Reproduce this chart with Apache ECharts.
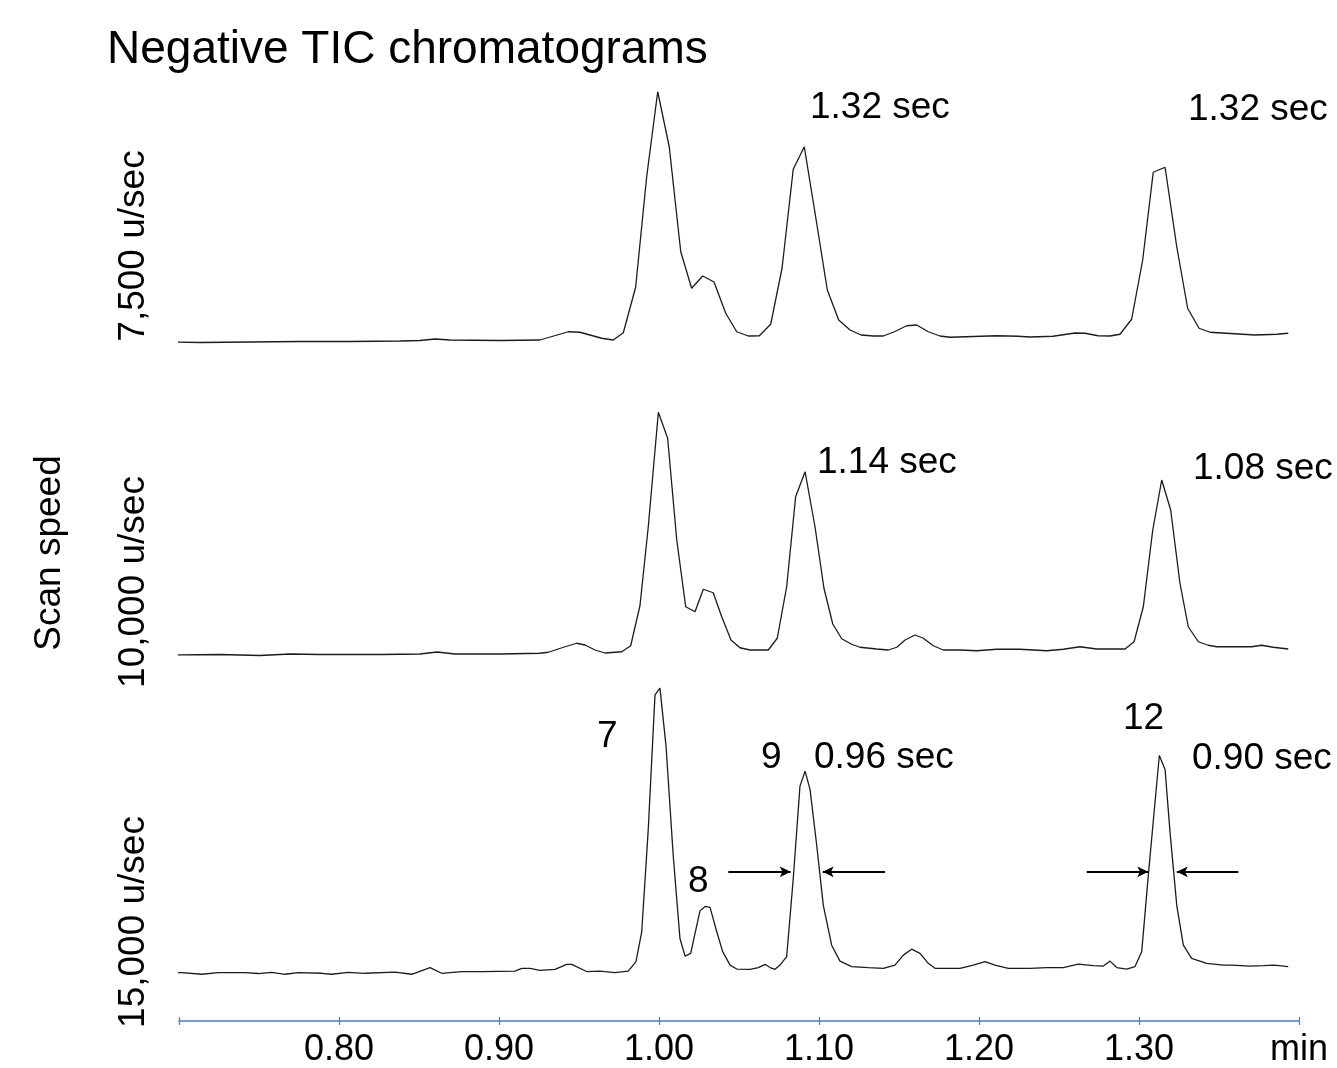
<!DOCTYPE html>
<html>
<head>
<meta charset="utf-8">
<title>Negative TIC chromatograms</title>
<script src="https://cdn.jsdelivr.net/npm/echarts@6/dist/echarts.min.js"></script>
<style>
  html, body { margin: 0; padding: 0; background: #fff; }
  #chart { width: 1337px; height: 1068px; }
</style>
</head>
<body>
<div id="chart"></div>
<script>
// [retention time (min), relative intensity]
var scan7500 = [
  [0.6956, 7.2], [0.7131, 7.0], [0.7444, 7.2], [0.7756, 7.4], [0.8069, 7.4], [0.8381, 7.6],
  [0.8506, 7.8], [0.8600, 8.4], [0.8694, 8.0], [0.9006, 7.8], [0.9256, 8.0], [0.9433, 11.3],
  [0.9506, 11.1], [0.9642, 8.7], [0.9714, 8.0], [0.9777, 10.9], [0.9854, 29.1], [0.9923, 73.3],
  [0.9992, 107.3], [1.0064, 85.3], [1.0136, 43.3], [1.0204, 28.7], [1.0273, 33.6], [1.0344, 31.2],
  [1.0417, 18.7], [1.0486, 11.3], [1.0558, 9.6], [1.0627, 9.7], [1.0698, 14.3], [1.0769, 36.7],
  [1.0839, 76.3], [1.0908, 85.3], [1.0979, 57.3], [1.1052, 28.0], [1.1123, 16.0], [1.1194, 12.0],
  [1.1263, 10.0], [1.1339, 9.6], [1.1402, 9.6], [1.1471, 11.3], [1.1548, 13.7], [1.1611, 14.0],
  [1.1683, 11.3], [1.1756, 9.6], [1.1819, 9.1], [1.2111, 9.7], [1.2244, 9.5], [1.2319, 9.2],
  [1.2463, 9.5], [1.2600, 10.8], [1.2663, 10.7], [1.2744, 9.7], [1.2819, 9.6], [1.2881, 10.3],
  [1.2954, 16.3], [1.3023, 40.0], [1.3089, 75.1], [1.3163, 77.1], [1.3236, 45.3], [1.3304, 20.7],
  [1.3375, 12.7], [1.3444, 11.1], [1.3725, 10.0], [1.3861, 10.3], [1.3933, 10.7]
];

var scan10000 = [
  [0.6956, 8.0], [0.7256, 8.2], [0.7506, 7.8], [0.7694, 8.4], [0.7881, 8.2], [0.8256, 8.2],
  [0.8506, 8.4], [0.8613, 9.2], [0.8725, 8.4], [0.9006, 8.4], [0.9256, 8.7], [0.9308, 9.1],
  [0.9413, 11.3], [0.9486, 12.7], [0.9538, 12.0], [0.9600, 10.0], [0.9663, 8.8], [0.9767, 9.3],
  [0.9823, 11.7], [0.9881, 27.7], [0.9933, 59.3], [0.9996, 105.1], [1.0054, 94.7], [1.0111, 54.0],
  [1.0167, 27.3], [1.0225, 25.3], [1.0277, 34.3], [1.0339, 32.9], [1.0392, 23.3], [1.0450, 14.0],
  [1.0506, 10.9], [1.0569, 10.0], [1.0683, 10.0], [1.0739, 14.7], [1.0798, 35.3], [1.0854, 71.3],
  [1.0913, 81.3], [1.0975, 59.3], [1.1031, 34.7], [1.1086, 20.4], [1.1142, 14.5], [1.1204, 12.3],
  [1.1256, 11.1], [1.1361, 10.4], [1.1433, 10.0], [1.1486, 11.1], [1.1538, 14.0], [1.1600, 16.0],
  [1.1652, 14.7], [1.1714, 11.7], [1.1777, 10.0], [1.1881, 10.0], [1.1986, 9.7], [1.2111, 10.3],
  [1.2256, 10.3], [1.2423, 9.7], [1.2527, 10.3], [1.2631, 11.3], [1.2736, 10.4], [1.2913, 10.4],
  [1.2969, 13.3], [1.3027, 27.3], [1.3086, 58.0], [1.3142, 78.0], [1.3198, 66.0], [1.3256, 36.7],
  [1.3308, 19.3], [1.3371, 13.3], [1.3433, 11.9], [1.3486, 11.3], [1.3589, 11.3], [1.3704, 11.3],
  [1.3767, 11.9], [1.3839, 11.1], [1.3933, 10.4]
];

var scan15000 = [
  [0.6954, 19.3], [0.7017, 19.5], [0.7142, 18.8], [0.7246, 19.5], [0.7413, 19.5], [0.7496, 19.1],
  [0.7579, 19.6], [0.7663, 18.8], [0.7746, 19.5], [0.7892, 19.2], [0.7954, 18.8], [0.8058, 19.6],
  [0.8163, 19.2], [0.8350, 19.7], [0.8454, 18.8], [0.8569, 21.5], [0.8642, 19.2], [0.8767, 19.9],
  [0.8892, 19.9], [0.9100, 20.1], [0.9142, 21.2], [0.9194, 21.2], [0.9256, 20.4], [0.9350, 20.8],
  [0.9423, 22.8], [0.9454, 22.8], [0.9548, 19.9], [0.9631, 20.1], [0.9725, 19.5], [0.9808, 20.1],
  [0.9856, 23.9], [0.9892, 35.9], [0.9933, 77.2], [0.9975, 131.2], [1.0006, 133.9], [1.0044, 110.5],
  [1.0089, 66.5], [1.0131, 33.2], [1.0163, 26.1], [1.0198, 27.2], [1.0256, 44.3], [1.0288, 46.1],
  [1.0319, 45.7], [1.0361, 35.9], [1.0398, 27.9], [1.0444, 22.5], [1.0486, 20.9], [1.0569, 20.8],
  [1.0621, 21.5], [1.0663, 22.8], [1.0694, 21.5], [1.0725, 20.8], [1.0756, 22.5], [1.0798, 25.9],
  [1.0839, 57.2], [1.0881, 94.5], [1.0913, 100.5], [1.0944, 93.2], [1.0986, 70.5], [1.1027, 46.5],
  [1.1079, 30.5], [1.1131, 24.1], [1.1204, 21.9], [1.1308, 21.5], [1.1402, 21.2], [1.1475, 22.5],
  [1.1527, 26.5], [1.1579, 28.9], [1.1631, 27.2], [1.1683, 23.2], [1.1725, 21.2], [1.1881, 21.2],
  [1.1964, 22.5], [1.2038, 23.9], [1.2100, 22.5], [1.2183, 21.2], [1.2319, 21.2], [1.2423, 21.5],
  [1.2527, 21.5], [1.2621, 22.9], [1.2714, 22.3], [1.2777, 22.1], [1.2819, 24.1], [1.2861, 21.5],
  [1.2923, 20.9], [1.2975, 21.9], [1.3017, 27.9], [1.3058, 58.5], [1.3100, 87.9], [1.3127, 106.8],
  [1.3163, 101.2], [1.3194, 75.9], [1.3236, 46.5], [1.3277, 30.5], [1.3329, 25.2], [1.3423, 23.2],
  [1.3527, 22.5], [1.3579, 22.5], [1.3694, 22.1], [1.3777, 22.3], [1.3844, 22.5], [1.3933, 21.9]
];

// half-height width arrows on peaks 9 and 12 (15,000 u/sec trace): [from, to] in minutes at intensity 60
var widthArrows = [
  [1.0433, 1.0823], [1.1413, 1.1023],
  [1.2673, 1.3058], [1.3621, 1.3236]
];
var arrowLevel = 60;

var xMin = 0.70, xMax = 1.40, xStep = 0.10;

var font = '"Liberation Sans", Arial, sans-serif';

function txt(text, x, y, size, rotated) {
  return {
    type: 'text', x: x, y: y, silent: true,
    rotation: rotated ? Math.PI / 2 : 0,
    style: {
      text: text, fill: '#000', fontSize: size, fontFamily: font,
      align: rotated ? 'center' : 'left', verticalAlign: 'middle'
    }
  };
}

var chart = echarts.init(document.getElementById('chart'), null, { renderer: 'canvas' });

var traceStyle = { color: '#1c1c1c', width: 1.3 };
var axisBlue = '#4a7ebb';

function hiddenX(i) {
  return { gridIndex: i, type: 'value', min: xMin, max: xMax, interval: xStep, show: false };
}
function hiddenY(i, max) {
  return { gridIndex: i, type: 'value', min: 0, max: max, show: false };
}

var option = {
  animation: false,
  backgroundColor: '#fff',
  grid: [
    { left: 179, right: 38, top: 60, height: 300 },
    { left: 179, right: 38, top: 375, height: 300 },
    { left: 179, right: 38, top: 673, height: 350 }
  ],
  xAxis: [
    hiddenX(0),
    hiddenX(1),
    {
      gridIndex: 2, type: 'value', min: xMin, max: xMax, interval: xStep,
      axisLine: { show: true, lineStyle: { color: axisBlue, width: 1.5 } },
      axisTick: { show: true, length: 4, lineStyle: { color: axisBlue, width: 1.2 } },
      splitLine: { show: false },
      axisLabel: {
        color: '#000', fontSize: 36, fontFamily: font, margin: 11, showMinLabel: true, showMaxLabel: true,
        formatter: function (v) {
          if (Math.abs(v - xMin) < 1e-6) return '';
          if (Math.abs(v - xMax) < 1e-6) return 'min';
          return v.toFixed(2);
        }
      }
    },
    {
      // upper half of the crossing tick marks
      gridIndex: 2, type: 'value', position: 'bottom', min: xMin, max: xMax, interval: xStep,
      axisLine: { show: false },
      axisTick: { show: true, inside: true, length: 4, lineStyle: { color: axisBlue, width: 1.2 } },
      axisLabel: { show: false },
      splitLine: { show: false }
    }
  ],
  yAxis: [hiddenY(0, 120), hiddenY(1, 120), hiddenY(2, 140)],
  series: [
    { type: 'line', xAxisIndex: 0, yAxisIndex: 0, data: scan7500, showSymbol: false, clip: false, lineStyle: traceStyle },
    { type: 'line', xAxisIndex: 1, yAxisIndex: 1, data: scan10000, showSymbol: false, clip: false, lineStyle: traceStyle },
    {
      type: 'line', xAxisIndex: 2, yAxisIndex: 2, data: scan15000, showSymbol: false, clip: false, lineStyle: traceStyle,
      markLine: {
        silent: true,
        symbol: ['none', 'arrow'],
        symbolSize: [8, 11],
        label: { show: false },
        lineStyle: { color: '#000', width: 2, type: 'solid' },
        data: widthArrows.map(function (a) {
          return [{ coord: [a[0], arrowLevel] }, { coord: [a[1], arrowLevel] }];
        })
      }
    }
  ],
  graphic: [
    txt('Negative TIC chromatograms', 107, 50, 46),
    txt('Scan speed', 50, 553, 37, true),
    txt('7,500 u/sec', 134, 246, 37, true),
    txt('10,000 u/sec', 134, 582, 37, true),
    txt('15,000 u/sec', 134, 922, 37, true),
    txt('1.32 sec', 810, 108, 37),
    txt('1.32 sec', 1188, 110, 37),
    txt('1.14 sec', 817, 463, 37),
    txt('1.08 sec', 1193, 469, 37),
    txt('7', 597, 737, 37),
    txt('9', 761, 758, 37),
    txt('0.96 sec', 814, 758, 37),
    txt('8', 688, 882, 37),
    txt('12', 1123, 719, 37),
    txt('0.90 sec', 1192, 759, 37)
  ]
};

chart.setOption(option);
</script>
</body>
</html>
